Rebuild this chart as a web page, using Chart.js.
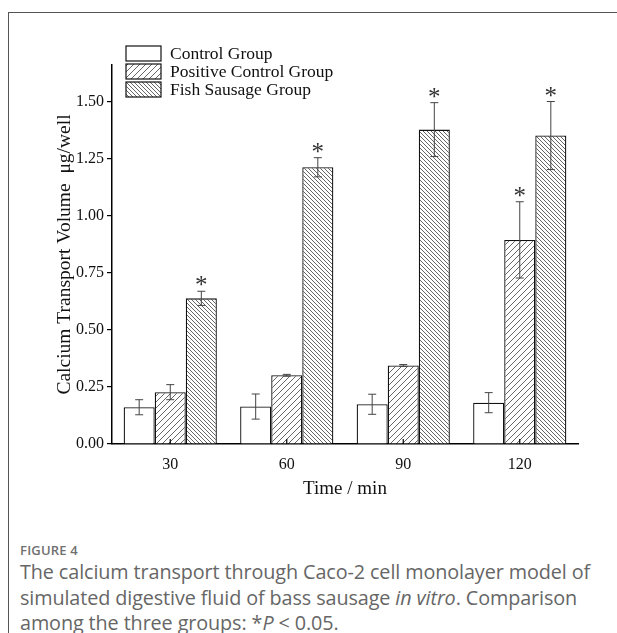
<!DOCTYPE html>
<html>
<head>
<meta charset="utf-8">
<script src="https://cdn.jsdelivr.net/npm/chart.js@4"></script>
<style>
    html, body { margin: 0; padding: 0; background: #fff; }
    body { width: 617px; height: 633px; position: relative; overflow: hidden; }
    .frame {
        position: absolute; left: 8px; top: 12px; right: -2px; bottom: -2px;
        border-top: 1px solid #555; border-left: 1px solid #555;
    }
    .chart-box { position: absolute; left: 0; top: 0; width: 617px; height: 512px; }
    .caption {
        position: absolute; left: 20px; top: 541px; width: 597px;
        font-family: "Open Sans", sans-serif; color: #666; white-space: nowrap;
    }
    .caption .fig { font-size: 13px; font-weight: 600; color: #707070; letter-spacing: 0.2px; }
    .caption .txt { font-size: 19.8px; line-height: 25.5px; margin-top: 0px; letter-spacing: -0.1px; }
</style>
</head>
<body>
<div class="frame"></div>
<div class="chart-box"><canvas id="calciumChart"></canvas></div>
<div class="caption">
    <div class="fig">FIGURE 4</div>
    <div class="txt">The calcium transport through Caco-2 cell monolayer model of<br>simulated digestive fluid of bass sausage <i>in vitro</i>. Comparison<br>among the three groups: *<i>P</i> &lt; 0.05.</div>
</div>
<script>
// 数据
const categories = ['30', '60', '90', '120'];
const seriesLabels = ['Control Group', 'Positive Control Group', 'Fish Sausage Group'];
const controlValues = [0.161, 0.164, 0.174, 0.181];
const controlErrors = [0.033, 0.055, 0.044, 0.044];
const positiveValues = [0.227, 0.301, 0.344, 0.894];
const positiveErrors = [0.033, 0.004, 0.004, 0.167];
const fishValues = [0.638, 1.212, 1.377, 1.351];
const fishErrors = [0.031, 0.042, 0.118, 0.149];
const controlStars = [false, false, false, false];
const positiveStars = [false, false, false, true];
const fishStars = [true, true, true, true];
const yTicks = [0, 0.25, 0.5, 0.75, 1.0, 1.25, 1.5];
const yTickLabels = ['0.00', '0.25', '0.50', '0.75', '1.00', '1.25', '1.50'];

const SERIF = '"Liberation Serif", "Times New Roman", serif';

// 斜线填充
function makeHatch(step, dir) {
    const c = document.createElement('canvas');
    c.width = step; c.height = step;
    const g = c.getContext('2d');
    g.fillStyle = '#fff';
    g.fillRect(0, 0, step, step);
    g.strokeStyle = '#333';
    g.lineWidth = 0.75;
    g.beginPath();
    if (dir === '/') {
        g.moveTo(-1, step + 1); g.lineTo(step + 1, -1);
        g.moveTo(-1, 1); g.lineTo(1, -1);
        g.moveTo(step - 1, step + 1); g.lineTo(step + 1, step - 1);
    } else {
        g.moveTo(-1, -1); g.lineTo(step + 1, step + 1);
        g.moveTo(step - 1, -1); g.lineTo(step + 1, 1);
        g.moveTo(-1, step - 1); g.lineTo(1, step + 1);
    }
    g.stroke();
    return document.createElement('canvas').getContext('2d').createPattern(c, 'repeat');
}

const positiveFill = makeHatch(6, '/');
const fishFill = makeHatch(4, '\\');

const errorSets = [controlErrors, positiveErrors, fishErrors];
const starSets = [controlStars, positiveStars, fishStars];

// 误差线 + 星号 + 内向刻度 + 图例
const extrasPlugin = {
    id: 'extras',
    afterDatasetsDraw(chart) {
        const ctx = chart.ctx;
        const y = chart.scales.y;
        const x = chart.scales.x;
        ctx.save();
        // 误差线
        chart.data.datasets.forEach((ds, di) => {
            const meta = chart.getDatasetMeta(di);
            meta.data.forEach((bar, i) => {
                const v = ds.data[i];
                const e = errorSets[di][i];
                const yTop = y.getPixelForValue(v + e);
                const yBot = y.getPixelForValue(v - e);
                ctx.strokeStyle = '#444';
                ctx.lineWidth = 1;
                ctx.beginPath();
                ctx.moveTo(bar.x, yTop); ctx.lineTo(bar.x, yBot);
                ctx.moveTo(bar.x - 4, yTop); ctx.lineTo(bar.x + 4, yTop);
                ctx.moveTo(bar.x - 4, yBot); ctx.lineTo(bar.x + 4, yBot);
                ctx.stroke();
                if (starSets[di][i]) {
                    ctx.fillStyle = '#333';
                    ctx.font = '25px ' + SERIF;
                    ctx.textAlign = 'center';
                    ctx.textBaseline = 'alphabetic';
                    ctx.fillText('*', bar.x, yTop + 2);
                }
            });
        });
        // x 轴内向刻度
        ctx.strokeStyle = '#000';
        ctx.lineWidth = 1.2;
        ctx.beginPath();
        categories.forEach((c, i) => {
            const px = x.getPixelForValue(i);
            ctx.moveTo(px, y.bottom); ctx.lineTo(px, y.bottom - 5);
        });
        ctx.stroke();
        // 图例
        const lx = 126, ly = 46, bw = 35, bh = 15, gap = 18;
        chart.data.datasets.forEach((ds, di) => {
            const top = ly + di * gap;
            ctx.fillStyle = ds.backgroundColor;
            ctx.fillRect(lx, top, bw, bh);
            ctx.strokeStyle = '#111';
            ctx.lineWidth = 1.2;
            ctx.strokeRect(lx, top, bw, bh);
            ctx.fillStyle = '#111';
            ctx.font = '17.5px ' + SERIF;
            ctx.textAlign = 'left';
            ctx.textBaseline = 'middle';
            ctx.fillText(ds.label, lx + 44, top + bh / 2 + 1);
        });
        ctx.restore();
    }
};

new Chart(document.getElementById('calciumChart').getContext('2d'), {
    type: 'bar',
    data: {
        labels: categories,
        datasets: [{
            label: seriesLabels[0],
            data: controlValues,
            backgroundColor: '#fff',
            borderColor: '#111',
            borderWidth: 1.3
        }, {
            label: seriesLabels[1],
            data: positiveValues,
            backgroundColor: positiveFill,
            borderColor: '#111',
            borderWidth: 1.3
        }, {
            label: seriesLabels[2],
            data: fishValues,
            backgroundColor: fishFill,
            borderColor: '#111',
            borderWidth: 1.3
        }]
    },
    options: {
        responsive: true,
        maintainAspectRatio: false,
        animation: false,
        categoryPercentage: 0.8,
        barPercentage: 1.0,
        layout: { padding: { left: 0, right: 39, top: 65, bottom: 0 } },
        plugins: {
            legend: { display: false },
            tooltip: { enabled: false }
        },
        scales: {
            x: {
                grid: { display: false, drawTicks: false },
                border: { display: true, color: '#000', width: 1.5 },
                ticks: { color: '#111', font: { family: SERIF, size: 16 }, padding: 11 },
                title: {
                    display: true, text: 'Time / min', color: '#111',
                    font: { family: SERIF, size: 19 }, padding: { top: 0, bottom: 12 }
                },
                afterFit: s => { s.height = 68; }
            },
            y: {
                min: 0,
                max: 1.66,
                grid: { drawOnChartArea: false, drawTicks: true, tickLength: 5, color: '#000', lineWidth: 1.2 },
                border: { display: true, color: '#000', width: 1.5 },
                afterBuildTicks: s => { s.ticks = yTicks.map(v => ({ value: v })); },
                ticks: {
                    color: '#111', font: { family: SERIF, size: 16 }, padding: 3,
                    callback: (v, i) => yTickLabels[i]
                },
                title: {
                    display: true, text: 'Calcium Transport Volume  \u03bcg/well', color: '#111',
                    font: { family: SERIF, size: 19.5 }, padding: { top: 53, bottom: 0 }
                },
                afterFit: s => { s.width = 112; }
            }
        }
    },
    plugins: [extrasPlugin]
});
</script>
</body>
</html>
